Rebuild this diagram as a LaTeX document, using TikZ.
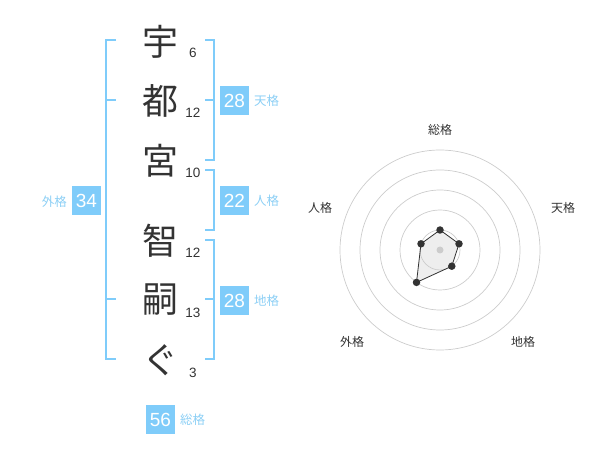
\documentclass[tikz,border=0pt]{standalone}
\usepackage{fontspec}
\setmainfont{Liberation Sans}
\newfontfamily\cjk{Noto Sans CJK JP}
\definecolor{skyb}{HTML}{7FCCFA}
\definecolor{lblb}{HTML}{8CCFF5}
\definecolor{ink}{HTML}{333333}
\definecolor{ring}{HTML}{CCCCCC}
\definecolor{polyfill}{HTML}{EEEEEE}
\begin{document}
\begin{tikzpicture}[x=1pt,y=-1pt,
  kanji/.style={inner sep=0pt,text=ink,font=\cjk\fontsize{36}{36}\selectfont},
  stroke/.style={inner sep=0pt,text=ink,font=\fontsize{13.5}{14}\selectfont},
  badge/.style={fill=skyb,text=white,minimum width=29pt,minimum height=29pt,inner sep=0pt,font=\fontsize{19}{19}\selectfont},
  kaku/.style={inner sep=0pt,text=lblb,font=\cjk\fontsize{12.5}{13}\selectfont},
  brk/.style={draw=skyb,line width=1.8pt},
  axislbl/.style={inner sep=0pt,text=ink,font=\cjk\fontsize{12}{12}\selectfont},
  ringc/.style={draw=ring,line width=0.7pt},
  dot/.style={circle,fill=ink,inner sep=0pt,minimum size=7.5pt}]
\useasboundingbox (0,0) rectangle (600,470);
% characters
\node[kanji] (k1) at (160,42) {宇};
\node[kanji] (k2) at (160,101) {都};
\node[kanji] (k3) at (160,161) {宮};
\node[kanji] (k4) at (160,241) {智};
\node[kanji] (k5) at (160,300) {嗣};
\node[kanji] (k6) at (160,360) {ぐ};
% stroke counts
\node[stroke] (s1) at (193,53) {6};
\node[stroke] (s2) at (193,113) {12};
\node[stroke] (s3) at (193,173) {10};
\node[stroke] (s4) at (193,253) {12};
\node[stroke] (s5) at (193,313) {13};
\node[stroke] (s6) at (193,373) {3};
% brackets
\draw[brk] (116,40) -- (106,40) -- (106,359) -- (116,359);
\draw[brk] (106,100) -- (116,100);
\draw[brk] (106,299) -- (116,299);
\draw[brk] (205,40) -- (214,40) -- (214,160) -- (205,160);
\draw[brk] (205,100) -- (214,100);
\draw[brk] (205,170) -- (214,170) -- (214,230) -- (205,230);
\draw[brk] (205,240) -- (214,240) -- (214,359) -- (205,359);
\draw[brk] (205,299) -- (214,299);
% badges
\node[badge] (b1) at (234.5,100.5) {28};
\node[kaku,anchor=west] (l1) at (254,101) {天格};
\node[badge] (b2) at (234.5,200.5) {22};
\node[kaku,anchor=west] (l2) at (254,201) {人格};
\node[badge] (b3) at (234.5,300.5) {28};
\node[kaku,anchor=west] (l3) at (254,301) {地格};
\node[badge] (b4) at (86.5,201) {34};
\node[kaku,anchor=east] (l4) at (67,202) {外格};
\node[badge] (b5) at (160.5,419.5) {56};
\node[kaku,anchor=west] (l5) at (180,420) {総格};
% radar
\coordinate (c) at (440,250);
\coordinate (p1) at (440,230);
\coordinate (p2) at (459.0,243.8);
\coordinate (p3) at (451.8,266.2);
\coordinate (p4) at (416.5,282.4);
\coordinate (p5) at (421.0,243.8);
\fill[polyfill] (p1) -- (p2) -- (p3) -- (p4) -- (p5) -- cycle;
\foreach \r in {20,40,60,80,100} \draw[ringc] (c) circle[radius=\r];
\fill[ring] (c) circle[radius=3.5];
\draw[ink,line width=0.8pt] (p1) -- (p2) -- (p3) -- (p4) -- (p5) -- cycle;
\foreach \p in {p1,p2,p3,p4,p5} \node[dot] at (\p) {};
\node[axislbl] (a1) at (440,130) {総格};
\node[axislbl] (a2) at (563,208) {天格};
\node[axislbl] (a3) at (523,342) {地格};
\node[axislbl] (a4) at (352,342) {外格};
\node[axislbl] (a5) at (320,208) {人格};
\end{tikzpicture}
\end{document}
